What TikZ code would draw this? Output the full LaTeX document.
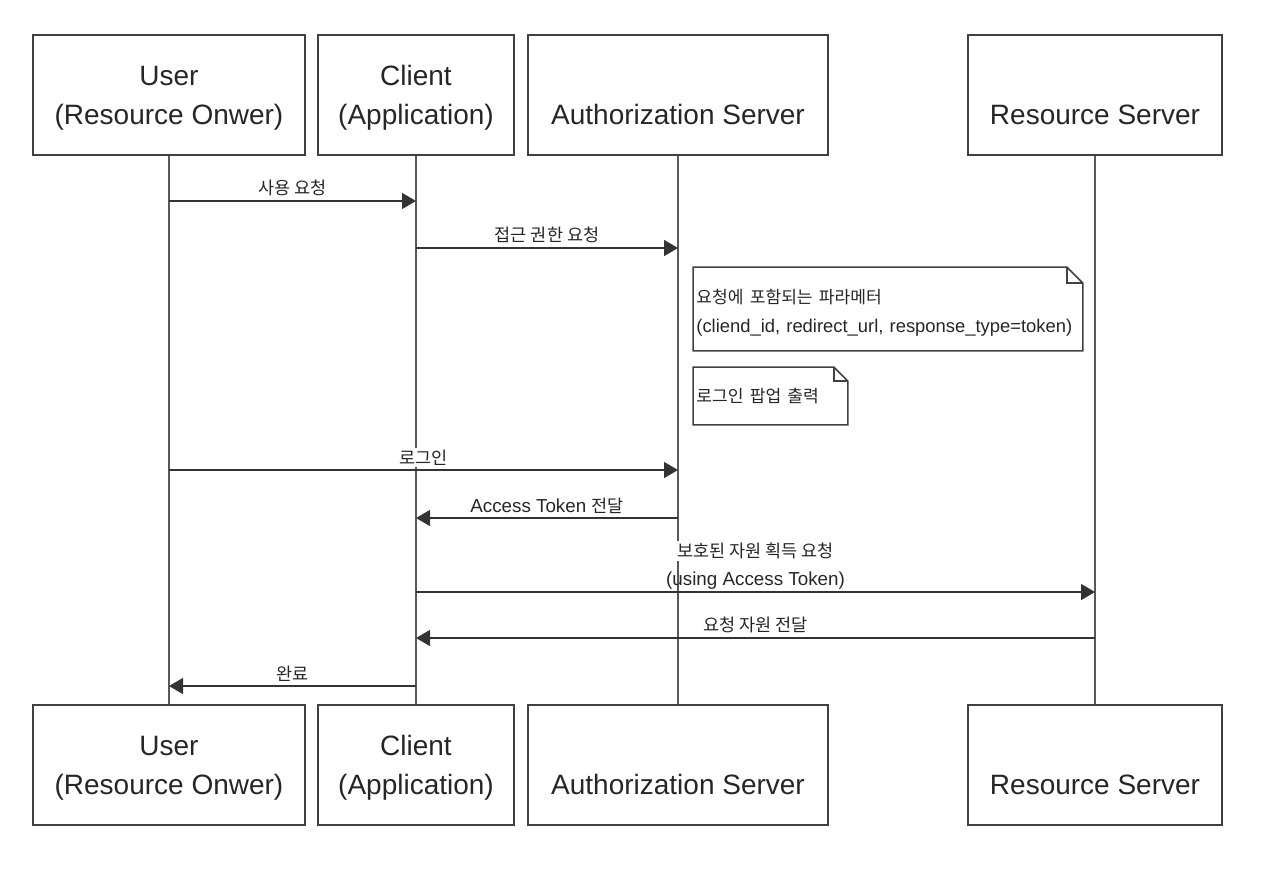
\documentclass[tikz,border=0pt]{standalone}
\usepackage{fontspec}
\setmainfont{Liberation Sans}
\newfontfamily\kr{Noto Sans CJK KR}[Scale=0.93]
\usetikzlibrary{arrows.meta}
\tikzset{
  actor/.style={draw=black!75, line width=0.75pt, minimum height=60pt,
    align=center, text=black!85, text depth=0pt,
    font=\fontsize{14}{19.5}\selectfont},
  life/.style={draw=black!65, line width=0.75pt},
  msg/.style={draw=black!80, line width=0.75pt, -{Triangle[length=7pt,width=8pt]}},
  lbl/.style={font=\fontsize{9.4}{12}\selectfont, text=black!85, fill=white,
    inner sep=1pt, above=1pt},
  note/.style={anchor=north west, inner xsep=1.5pt, inner ysep=0pt, align=left,
    text=black!85, font=\fontsize{9.2}{14.5}\selectfont,
    execute at begin node={\hyphenpenalty=10000}},
  noteline/.style={draw=black!75, line width=0.75pt, line join=miter},
}

\begin{document}
\begin{tikzpicture}[x=0.5pt, y=-0.5pt]
  \useasboundingbox (0,0) rectangle (1288,874);

  % participants, top row
  \node[actor, minimum width=136pt] (user)   at (169,95)  {User\\(Resource Onwer)};
  \node[actor, minimum width=98pt]  (client) at (416,95)  {Client\\(Application)};
  \node[actor, minimum width=150pt] (auth)   at (678,95)  {\vphantom{U}\\Authorization Server};
  \node[actor, minimum width=127pt] (res)    at (1095,95) {\vphantom{U}\\Resource Server};

  % participants, bottom row
  \node[actor, minimum width=136pt] (userB)   at (169,765)  {User\\(Resource Onwer)};
  \node[actor, minimum width=98pt]  (clientB) at (416,765)  {Client\\(Application)};
  \node[actor, minimum width=150pt] (authB)   at (678,765)  {\vphantom{U}\\Authorization Server};
  \node[actor, minimum width=127pt] (resB)    at (1095,765) {\vphantom{U}\\Resource Server};

  % lifelines
  \draw[life] (user)   -- (userB);
  \draw[life] (client) -- (clientB);
  \draw[life] (auth)   -- (authB);
  \draw[life] (res)    -- (resB);

  % message rows
  \coordinate (m1) at (0,201);
  \coordinate (m2) at (0,248);
  \coordinate (m3) at (0,470);
  \coordinate (m4) at (0,518);
  \coordinate (m5) at (0,592);
  \coordinate (m6) at (0,638);
  \coordinate (m7) at (0,686);

  \draw[msg] (user |- m1) -- node[lbl] {\kr 사용 요청} (client |- m1);
  \draw[msg] (client |- m2) -- node[lbl] {\kr 접근 권한 요청} (auth |- m2);
  \draw[msg] (user |- m3) -- node[lbl] {\kr 로그인} (auth |- m3);
  \draw[msg] (auth |- m4) -- node[lbl] {Access Token {\kr 전달}} (client |- m4);
  \draw[msg] (client |- m5) -- node[lbl, above=14pt] {\kr 보호된 자원 획득 요청}
                               node[lbl, fill=none, above=-1pt] {(using Access Token)} (res |- m5);
  \draw[msg] (res |- m6) -- node[lbl] {\kr 요청 자원 전달} (client |- m6);
  \draw[msg] (client |- m7) -- node[lbl] {\kr 완료} (user |- m7);

  % notes
  \node[note, minimum width=194.5pt, minimum height=41.5pt, text width=191.5pt,
        text depth=12.4pt] (n1) at (693,267)
    {{\kr 요청에 포함되는 파라메터}\\(cliend\_id, redirect\_url, response\_type=token)};
  \draw[noteline] (n1.south west) -- (n1.north west) -- ([xshift=-8pt]n1.north east)
    -- ([yshift=-8pt]n1.north east) -- (n1.south east) -- cycle;
  \draw[noteline] ([xshift=-8pt]n1.north east) -- ++(0,16) -- ([yshift=-8pt]n1.north east);

  \node[note, minimum width=77pt, minimum height=28.5pt, text width=74pt] (n2) at (693,367)
    {\kr 로그인 팝업 출력};
  \draw[noteline] (n2.south west) -- (n2.north west) -- ([xshift=-7pt]n2.north east)
    -- ([yshift=-7pt]n2.north east) -- (n2.south east) -- cycle;
  \draw[noteline] ([xshift=-7pt]n2.north east) -- ++(0,14) -- ([yshift=-7pt]n2.north east);
\end{tikzpicture}
\end{document}
